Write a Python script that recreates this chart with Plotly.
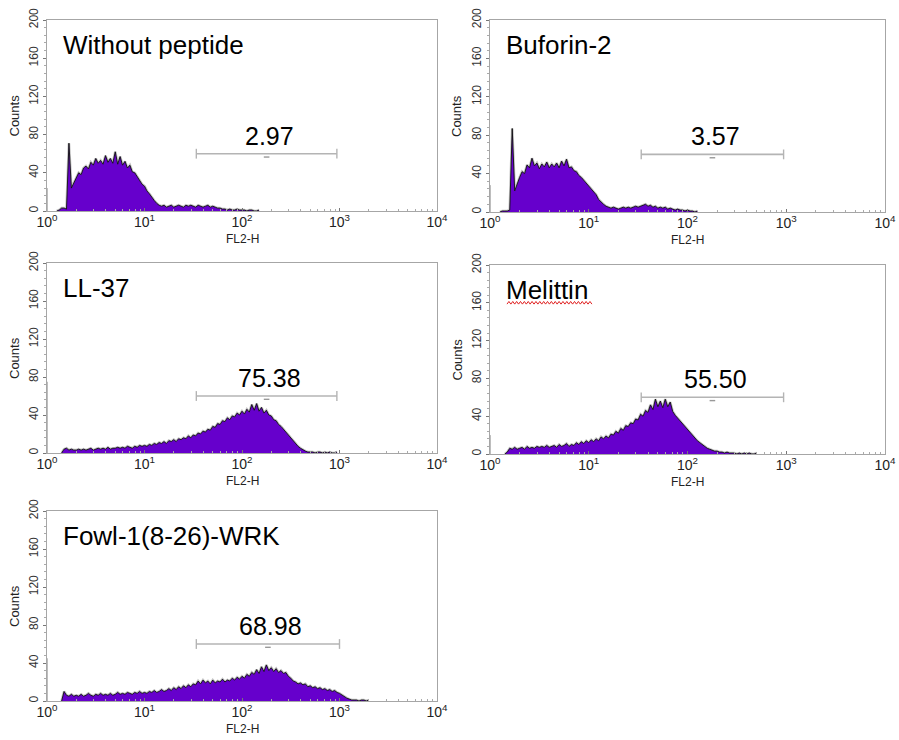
import math
import plotly.graph_objects as go

# ---------------------------------------------------------------------------
# Flow cytometry FL2-H histograms (counts per log10 channel bin)
# ---------------------------------------------------------------------------
STEP = 0.025  # bin width in decades

panel_names = ["Without peptide", "Buforin-2", "LL-37", "Melittin", "Fowl-1(8-26)-WRK"]
start_log = [0.10, 0.10, 0.15, 0.15, 0.15]

counts_without = [
    0, 1, 3, 3, 2, 71, 24, 30, 36, 40, 38, 45, 47, 44, 51, 48, 55, 50, 53, 49,
    58, 51, 55, 50, 62, 49, 57, 48, 52, 45, 48, 41, 40, 36, 32, 28, 26, 21, 18, 14,
    11, 8, 6, 5, 6, 4, 5, 6, 4, 5, 6, 5, 4, 6, 5, 6, 5, 4, 6, 5,
    4, 5, 6, 4, 5, 4, 3, 3, 2, 2, 1, 2, 1, 1, 2, 1, 1, 1, 0, 1,
    1, 0, 0, 1,
]
counts_buforin = [
    0, 1, 1, 1, 2, 87, 22, 30, 36, 42, 40, 49, 46, 56, 48, 51, 45, 50, 47, 52,
    46, 50, 47, 51, 46, 53, 48, 55, 46, 47, 43, 42, 38, 36, 33, 31, 27, 25, 21, 18,
    13, 10, 8, 6, 5, 4, 5, 4, 3, 4, 5, 4, 5, 4, 5, 6, 5, 6, 7, 8,
    6, 7, 5, 6, 4, 5, 4, 5, 3, 4, 3, 2, 3, 2, 2, 1, 2, 1, 1, 0,
    1,
]
counts_ll37 = [
    0, 4, 5, 3, 4, 3, 3, 4, 3, 4, 3, 4, 5, 3, 4, 5, 4, 5, 4, 6,
    4, 5, 5, 6, 5, 6, 5, 7, 6, 5, 7, 6, 8, 7, 8, 7, 9, 8, 10, 9,
    11, 10, 12, 10, 13, 12, 14, 12, 15, 14, 16, 15, 18, 16, 19, 18, 21, 20, 23, 22,
    25, 24, 28, 27, 31, 30, 34, 33, 37, 35, 39, 38, 42, 40, 44, 41, 46, 43, 51, 45,
    52, 44, 48, 42, 45, 40, 39, 35, 34, 30, 28, 25, 21, 18, 15, 12, 9, 7, 5, 3,
    2, 1, 1, 1, 0, 1, 1, 0, 1, 0, 1, 0, 0, 1,
]
counts_melittin = [
    0, 2, 6, 5, 7, 5, 6, 7, 5, 8, 6, 7, 6, 8, 7, 8, 7, 9, 7, 8,
    9, 7, 10, 8, 9, 11, 8, 10, 9, 12, 10, 13, 11, 14, 12, 15, 13, 16, 14, 18,
    16, 19, 17, 21, 20, 24, 22, 27, 25, 30, 29, 33, 32, 37, 36, 42, 40, 46, 44, 52,
    47, 58, 50, 56, 49, 58, 50, 55, 45, 41, 38, 35, 31, 29, 25, 23, 20, 17, 14, 12,
    10, 8, 6, 5, 4, 3, 3, 2, 2, 1, 2, 1, 1, 1, 0, 1, 0, 1, 0, 1,
    0, 0, 1,
]
counts_fowl = [
    0, 10, 6, 5, 7, 5, 6, 5, 7, 5, 6, 8, 6, 5, 7, 6, 8, 6, 7, 6,
    8, 6, 7, 9, 7, 8, 7, 9, 8, 7, 9, 8, 10, 8, 9, 8, 10, 9, 11, 9,
    10, 12, 10, 11, 13, 11, 14, 12, 15, 13, 16, 14, 17, 15, 18, 17, 21, 18, 22, 19,
    21, 18, 22, 19, 21, 20, 23, 20, 22, 21, 24, 22, 25, 23, 26, 24, 28, 26, 30, 28,
    33, 29, 36, 31, 38, 32, 35, 31, 34, 30, 32, 29, 30, 26, 24, 21, 20, 18, 19, 17,
    18, 15, 16, 14, 15, 13, 14, 12, 13, 11, 12, 10, 11, 9, 8, 6, 4, 3, 2, 1,
    1, 1, 0, 1, 1, 0, 1,
]
panel_counts = [counts_without, counts_buforin, counts_ll37, counts_melittin, counts_fowl]

# events piled up in the first channel
first_channel = [24, 28, 75, 20, 45]

# M1 marker gate: bounds, level (counts) and % of gated events
gate_lo = [34, 34, 34, 34, 34]
gate_hi = [940, 940, 940, 940, 1000]
gate_level = 60
gate_pct = ["2.97", "3.57", "75.38", "55.50", "68.98"]

y_ticks = [0, 40, 80, 120, 160, 200]
x_tick_vals = [1, 10, 100, 1000, 10000]
x_tick_text = ["10<sup>0</sup>", "10<sup>1</sup>", "10<sup>2</sup>", "10<sup>3</sup>", "10<sup>4</sup>"]

# ---------------------------------------------------------------------------
W, H = 899, 740
# panel plot-area boxes in pixels: left, top, right, bottom
boxes = [
    (47, 20, 437, 211),
    (490, 20, 885, 212),
    (47, 263, 437, 453),
    (490, 265, 885, 454),
    (47, 511, 437, 701),
]

FILL = "#6600cc"
EDGE = "rgba(15,15,15,0.9)"
HALO = "rgba(120,120,120,0.45)"
FRAME = "#a6a6a6"
GATE = "#b4b4b4"
FONT = "Liberation Sans, Arial, sans-serif"

fig = go.Figure()
annotations = []
shapes = []

for i, (name, counts) in enumerate(zip(panel_names, panel_counts)):
    k = "" if i == 0 else str(i + 1)
    xa, ya = "x" + k, "y" + k
    xs = [10 ** (start_log[i] + j * STEP) for j in range(len(counts))]

    # soft grey halo along the histogram outline
    fig.add_trace(go.Scatter(
        x=xs, y=counts, xaxis=xa, yaxis=ya, mode="lines",
        line=dict(color=HALO, width=2.6, shape="linear"),
        hoverinfo="skip", showlegend=False,
    ))
    # histogram body
    fig.add_trace(go.Scatter(
        x=xs, y=counts, xaxis=xa, yaxis=ya, mode="lines",
        line=dict(color=EDGE, width=1, shape="linear"),
        fill="tozeroy", fillcolor=FILL, hoverinfo="skip", showlegend=False,
    ))
    # first-channel pile-up
    fig.add_trace(go.Scatter(
        x=[1.012, 1.012], y=[0, first_channel[i]], xaxis=xa, yaxis=ya, mode="lines",
        line=dict(color="#bdbdbd", width=1), hoverinfo="skip", showlegend=False,
    ))
    # marker gate with end caps
    fig.add_trace(go.Scatter(
        x=[gate_lo[i], gate_hi[i]], y=[gate_level, gate_level], xaxis=xa, yaxis=ya,
        mode="lines+markers",
        line=dict(color=GATE, width=1.6),
        marker=dict(symbol="line-ns", size=7, line=dict(color=GATE, width=1.4)),
        hoverinfo="skip", showlegend=False,
    ))
    gmid = (gate_lo[i] * gate_hi[i]) ** 0.5
    fig.add_trace(go.Scatter(
        x=[gmid], y=[gate_level - 3.5], xaxis=xa, yaxis=ya, mode="markers",
        marker=dict(symbol="line-ew", size=4, line=dict(color="#999999", width=1.4)),
        hoverinfo="skip", showlegend=False,
    ))

    l, t, r, b = boxes[i]
    dom_x = [l / W, r / W]
    dom_y = [1 - b / H, 1 - t / H]
    fig.update_layout(**{
        ("xaxis" + k): dict(
            domain=dom_x, anchor=ya, type="log", range=[0, 4], automargin=False,
            tickvals=x_tick_vals, ticktext=x_tick_text,
            tickfont=dict(family=FONT, size=14, color="#222222"),
            showline=True, mirror=True, linecolor=FRAME, linewidth=1,
            ticks="inside", ticklen=3, tickcolor="#777777", ticklabelstandoff=-2,
            minor=dict(ticks="inside", ticklen=2, tickcolor="#aaaaaa", dtick="D1"),
            showgrid=False, zeroline=False, fixedrange=True,
        ),
        ("yaxis" + k): dict(
            domain=dom_y, anchor=xa, range=[0, 200], automargin=False,
            tickvals=y_ticks, tickangle=-90,
            tickfont=dict(family=FONT, size=12, color="#333333"),
            showline=True, mirror=True, linecolor=FRAME, linewidth=1,
            ticks="outside", ticklen=3, tickcolor="#777777",
            minor=dict(ticks="outside", ticklen=2, tickcolor="#aaaaaa", dtick=8),
            showgrid=False, zeroline=False, fixedrange=True,
        ),
    })

    xd, yd = xa + " domain", ya + " domain"
    # sample name
    annotations.append(dict(
        text=name, xref=xd, yref=yd, x=0.036, y=0.87, xanchor="left", yanchor="middle",
        showarrow=False, font=dict(family=FONT, size=26, color="#000000"),
    ))
    # gate percentage
    annotations.append(dict(
        text=gate_pct[i], xref=xd, yref=ya,
        x=0.5 * (math.log10(gate_lo[i]) + math.log10(gate_hi[i])) / 4 + 0.007,
        y=gate_level, yshift=2, xanchor="center", yanchor="bottom",
        showarrow=False, font=dict(family=FONT, size=25, color="#000000"),
    ))
    # axis titles
    annotations.append(dict(
        text="FL2-H", xref=xd, yref=yd, x=0.5, y=0, yshift=-28,
        xanchor="center", yanchor="middle", showarrow=False,
        font=dict(family=FONT, size=12, color="#222222"),
    ))
    annotations.append(dict(
        text="Counts", xref=xd, yref=yd, x=0, y=0.5, xshift=-33,
        xanchor="center", yanchor="middle", textangle=-90, showarrow=False,
        font=dict(family=FONT, size=13, color="#222222"),
    ))

# red wavy underline beneath "Melittin"
ux0, ux1, uy = 0.043, 0.258, 0.80
n = 44
pts = []
for j in range(n + 1):
    px = ux0 + (ux1 - ux0) * j / n
    py = uy + (0.007 if j % 2 else -0.007)
    pts.append(("M" if j == 0 else "L") + f"{px:.4f},{py:.4f}")
shapes.append(dict(type="path", xref="x4 domain", yref="y4 domain", path=" ".join(pts),
                   line=dict(color="#e02020", width=1)))

fig.update_layout(
    width=W, height=H, margin=dict(l=0, r=0, t=0, b=0),
    paper_bgcolor="white", plot_bgcolor="white",
    annotations=annotations, shapes=shapes, showlegend=False,
    font=dict(family=FONT),
)

fig.write_html("out.html")
